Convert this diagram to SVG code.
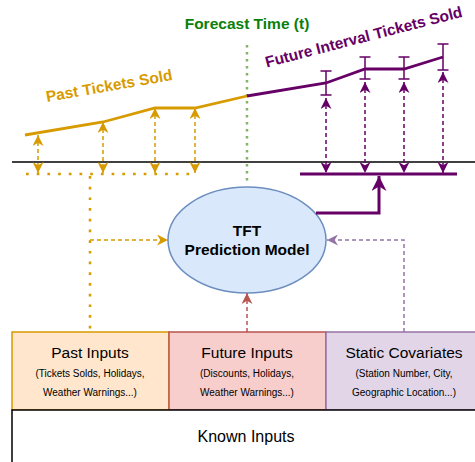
<svg xmlns="http://www.w3.org/2000/svg" width="475" height="462" viewBox="0 0 475 462">
  <style>
    text { font-family: "Liberation Sans", Arial, sans-serif; }
    .bold { font-weight: bold; }
    .orange { stroke: #d79b00; fill: none; }
    .purple { stroke: #660066; fill: none; }
    .dash-o { stroke: #d79b00; stroke-width: 1.5; stroke-dasharray: 4 3; fill: none; }
    .dash-p { stroke: #660066; stroke-width: 1.5; stroke-dasharray: 4 3; fill: none; }
    .box-title { font-size: 15.5px; fill: #000; text-anchor: middle; }
    .box-sub { font-size: 10px; fill: #000; text-anchor: middle; }
  </style>
  <defs>
    <marker id="ah-o" viewBox="0 0 10 10" refX="10" refY="5" markerWidth="11" markerHeight="11" markerUnits="userSpaceOnUse" orient="auto-start-reverse">
      <path d="M0,0 L10,5 L0,10 L3,5 z" fill="#d79b00"/>
    </marker>
    <marker id="ah-p" viewBox="0 0 10 10" refX="10" refY="5" markerWidth="11" markerHeight="11" markerUnits="userSpaceOnUse" orient="auto-start-reverse">
      <path d="M0,0 L10,5 L0,10 L3,5 z" fill="#660066"/>
    </marker>
    <marker id="ah-p-big" viewBox="0 0 10 10" refX="10" refY="5" markerWidth="15" markerHeight="15" markerUnits="userSpaceOnUse" orient="auto">
      <path d="M0,0 L10,5 L0,10 L3,5 z" fill="#660066"/>
    </marker>
    <marker id="ah-r" viewBox="0 0 10 10" refX="10" refY="5" markerWidth="11" markerHeight="11" markerUnits="userSpaceOnUse" orient="auto">
      <path d="M0,0 L10,5 L0,10 L3,5 z" fill="#b85450"/>
    </marker>
    <marker id="ah-v" viewBox="0 0 10 10" refX="10" refY="5" markerWidth="11" markerHeight="11" markerUnits="userSpaceOnUse" orient="auto">
      <path d="M0,0 L10,5 L0,10 L3,5 z" fill="#9673a6"/>
    </marker>
  </defs>

  <!-- time axis -->
  <line x1="12" y1="162" x2="475" y2="162" stroke="#000" stroke-width="1.5"/>

  <!-- forecast time marker -->
  <g id="forecast-time">
    <line x1="247" y1="45" x2="247" y2="184" stroke="#82b366" stroke-width="2.5" stroke-dasharray="2.5 4.5"/>
    <text x="247" y="29" class="bold" font-size="15.5" fill="#0a7f0a" text-anchor="middle">Forecast Time (t)</text>
  </g>

  <!-- past series -->
  <g id="past-series">
    <polyline class="orange" stroke-width="2.8" points="25,135 103,122 155,108 195,108 247,96"/>
    <text x="110" y="91" class="bold" font-size="15.5" fill="#d79b00" text-anchor="middle" transform="rotate(-10 110 91)">Past Tickets Sold</text>
  </g>

  <!-- future series with error bars -->
  <g id="future-series">
    <polyline class="purple" stroke-width="2.8" points="247,96 326,83 365,69 404,69 443,57"/>
    <g class="purple" stroke-width="1.5">
      <path d="M326,71 V95 M320.5,71 H331.5 M320.5,95 H331.5"/>
      <path d="M365,57 V79 M359.5,57 H370.5 M359.5,79 H370.5"/>
      <path d="M404,57 V79 M398.5,57 H409.5 M398.5,79 H409.5"/>
      <path d="M443,44 V70 M437.5,44 H448.5 M437.5,70 H448.5"/>
    </g>
    <text x="365" y="42" class="bold" font-size="15.5" fill="#660066" text-anchor="middle" transform="rotate(-14.5 365 42)">Future Interval Tickets Sold</text>
  </g>

  <!-- model -->
  <g id="tft-model">
    <ellipse cx="247" cy="240" rx="79" ry="53" fill="#dae8fc" stroke="#6c8ebf" stroke-width="1.5"/>
    <text x="247" y="236" class="bold" font-size="15.5" text-anchor="middle" fill="#000">TFT</text>
    <text x="247" y="255" class="bold" font-size="15.5" text-anchor="middle" fill="#000">Prediction Model</text>
  </g>

  <!-- input boxes -->
  <g id="past-inputs">
    <rect x="12" y="332" width="157" height="78" fill="#ffe6cc" stroke="#d79b00" stroke-width="1.5"/>
    <text x="90" y="358" class="box-title">Past Inputs</text>
    <text x="90" y="377" class="box-sub">(Tickets Solds, Holidays,</text>
    <text x="90" y="396" class="box-sub">Weather Warnings...)</text>
  </g>
  <g id="future-inputs">
    <rect x="169" y="332" width="157" height="78" fill="#f8cecc" stroke="#b85450" stroke-width="1.5"/>
    <text x="247" y="358" class="box-title">Future Inputs</text>
    <text x="247" y="377" class="box-sub">(Discounts, Holidays,</text>
    <text x="247" y="396" class="box-sub">Weather Warnings...)</text>
  </g>
  <g id="static-covariates">
    <rect x="326" y="332" width="157" height="78" fill="#e1d5e7" stroke="#9673a6" stroke-width="1.5"/>
    <text x="404" y="358" class="box-title">Static Covariates</text>
    <text x="404" y="377" class="box-sub">(Station Number, City,</text>
    <text x="404" y="396" class="box-sub">Geographic Location...)</text>
  </g>
  <g id="known-inputs">
    <rect x="12" y="410" width="471" height="60" fill="#fff" stroke="#000" stroke-width="1.5"/>
    <text x="246" y="442" font-size="16" text-anchor="middle" fill="#000">Known Inputs</text>
  </g>

  <!-- connectors -->
  <g id="connectors">
    <!-- past observations down to the input bus -->
    <line class="dash-o" x1="38" y1="135" x2="38" y2="173" marker-start="url(#ah-o)" marker-end="url(#ah-o)"/>
    <line class="dash-o" x1="103" y1="122" x2="103" y2="173" marker-start="url(#ah-o)" marker-end="url(#ah-o)"/>
    <line class="dash-o" x1="155" y1="108" x2="155" y2="173" marker-start="url(#ah-o)" marker-end="url(#ah-o)"/>
    <line class="dash-o" x1="195" y1="108" x2="195" y2="173" marker-start="url(#ah-o)" marker-end="url(#ah-o)"/>
    <line x1="26" y1="174" x2="196" y2="174" stroke="#d79b00" stroke-width="2.5" stroke-dasharray="2.7 8"/>
    <line x1="90" y1="176" x2="90" y2="332" stroke="#d79b00" stroke-width="2.5" stroke-dasharray="2.7 8"/>
    <line class="dash-o" x1="90" y1="240" x2="168" y2="240" marker-end="url(#ah-o)"/>

    <!-- future predictions up from the output bus -->
    <line class="dash-p" x1="326" y1="98" x2="326" y2="173" marker-start="url(#ah-p)" marker-end="url(#ah-p)"/>
    <line class="dash-p" x1="365" y1="82" x2="365" y2="173" marker-start="url(#ah-p)" marker-end="url(#ah-p)"/>
    <line class="dash-p" x1="404" y1="82" x2="404" y2="173" marker-start="url(#ah-p)" marker-end="url(#ah-p)"/>
    <line class="dash-p" x1="443" y1="72" x2="443" y2="173" marker-start="url(#ah-p)" marker-end="url(#ah-p)"/>
    <line x1="300" y1="174" x2="457" y2="174" stroke="#660066" stroke-width="3"/>
    <polyline class="purple" stroke-width="3" points="316,213 379,213 379,176" marker-end="url(#ah-p-big)"/>

    <!-- future inputs and static covariates into the model -->
    <line x1="247" y1="332" x2="247" y2="293" stroke="#b85450" stroke-width="1.5" stroke-dasharray="4 3" marker-end="url(#ah-r)"/>
    <polyline points="404,332 404,240 327,240" fill="none" stroke="#9673a6" stroke-width="1.5" stroke-dasharray="4 3" marker-end="url(#ah-v)"/>
  </g>
</svg>
